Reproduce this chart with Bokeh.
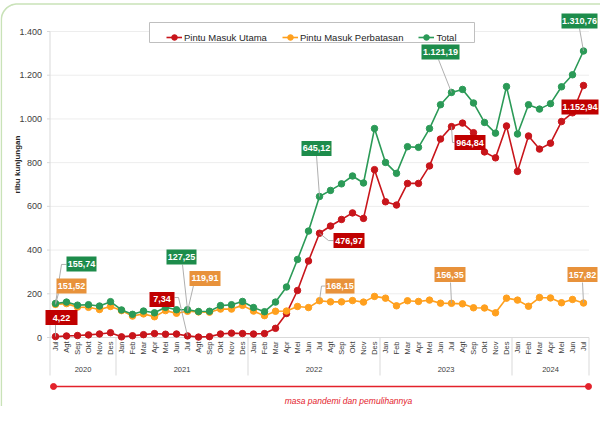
import numpy as np
from bokeh.plotting import figure
from bokeh.models import Range1d, Legend, LegendItem
from bokeh.core.properties import value
from bokeh.embed import file_html
from bokeh.resources import INLINE

# ---------------- data ----------------
months = ["Jul", "Agt", "Sep", "Okt", "Nov", "Des",
          "Jan", "Feb", "Mar", "Apr", "Mei", "Jun", "Jul", "Agt", "Sep", "Okt", "Nov", "Des",
          "Jan", "Feb", "Mar", "Apr", "Mei", "Jun", "Jul", "Agt", "Sep", "Okt", "Nov", "Des",
          "Jan", "Feb", "Mar", "Apr", "Mei", "Jun", "Jul", "Agt", "Sep", "Okt", "Nov", "Des",
          "Jan", "Feb", "Mar", "Apr", "Mei", "Jun", "Jul"]
years = ["2020", "2021", "2022", "2023", "2024"]
months_per_year = [6, 12, 12, 12, 7]

utama = [4.22, 7, 9, 12, 16, 22,
         3, 8, 13, 18, 15, 16, 7.34, 2, 4, 16, 20, 18,
         16, 18, 42, 110, 215, 350, 476.97, 510, 540, 570, 545, 768,
         621, 606, 705, 705, 785, 908, 964.84, 981, 937, 849, 822, 968,
         760, 922, 862, 889, 988, 1028, 1152.94]
perbatasan = [151.52, 155, 139, 138, 128, 142,
              123, 98, 108, 95, 123, 111, 119.91, 117, 116, 130, 130, 147,
              121, 100, 120, 121, 142, 137, 168.15, 163, 163, 169, 162, 188,
              180, 145, 168, 165, 171, 157, 156.35, 154, 136, 135, 113, 180,
              171, 143, 183, 181, 159, 174, 157.82]
total = [155.74, 162, 148, 150, 144, 164,
         126, 106, 121, 113, 138, 127, 127.25, 119, 120, 146, 150, 165,
         137, 118, 162, 231, 357, 487, 645.12, 673, 703, 739, 707, 956,
         801, 751, 873, 870, 956, 1065, 1121.19, 1135, 1073, 984, 935, 1148,
         931, 1065, 1045, 1070, 1147, 1202, 1310.76]
y_ticks = [0, 200, 400, 600, 800, 1000, 1200, 1400]
y_tick_labels = ["0", "200", "400", "600", "800", "1.000", "1.200", "1.400"]
series_names = ["Pintu Masuk Utama", "Pintu Masuk Perbatasan", "Total"]

# ---------------- style / geometry ----------------
RED, ORANGE, GREEN = "#C8151B", "#FFA01E", "#2B9A57"
RED_BOX, ORANGE_BOX, GREEN_BOX = "#C00000", "#E8923B", "#1D8C4B"
W, H = 600, 406
XS = 11.0              # px per month
X0 = 55.0              # figure px of first month
YS = 306.0 / 1400.0    # px per unit
Y0 = 337.0             # figure px of value 0
FONT_NAME = "Liberation Sans"
FONT = value(FONT_NAME)
GREY = "#D9D9D9"


def rx(xr):  # reference pixel -> data x
    return (xr - 8 - X0) / XS


def ry(yr):  # reference pixel -> data y
    return (Y0 - (yr - 8)) / YS


p = figure(width=W, height=H, output_backend="svg", toolbar_location=None,
           x_range=Range1d(-X0 / XS, (W - X0) / XS),
           y_range=Range1d(-(H - Y0) / YS, Y0 / YS),
           x_axis_location=None, y_axis_location=None, min_border=0)
p.xgrid.visible = False
p.ygrid.visible = False
p.outline_line_color = None
p.background_fill_color = "white"
p.border_fill_color = "white"

n = len(months)
idx = list(range(n))
x_left, x_right = -0.5, n - 0.5

# outer rounded green frame
r = 16.0
t = np.linspace(0, np.pi / 2, 20)
bx = [640.0] + list(8.8 + r - r * np.sin(t)) + [8.8]
by = [11.5] + list(11.5 + r - r * np.cos(t)) + [440.0]
p.line([rx(v) for v in bx], [ry(v) for v in by], line_color="#C9E2B8", line_width=1.6)

# gridlines
p.segment(x0=[x_left] * (len(y_ticks) - 1), x1=[x_right] * (len(y_ticks) - 1),
          y0=y_ticks[1:], y1=y_ticks[1:], line_color="#EDEDED", line_width=1)
p.segment(x0=[x_left], x1=[x_right], y0=[0], y1=[0], line_color=GREY, line_width=1)
# y axis line + ticks
p.segment(x0=[x_left], x1=[x_left], y0=[0], y1=[y_ticks[-1]], line_color=GREY, line_width=1)
p.segment(x0=[x_left - 3 / XS] * len(y_ticks), x1=[x_left] * len(y_ticks),
          y0=y_ticks, y1=y_ticks, line_color=GREY, line_width=1)
p.text(x=[x_left - 8 / XS] * len(y_ticks), y=y_ticks, text=y_tick_labels,
       text_font=FONT, text_font_size="9px", text_color="#404040",
       text_align="right", text_baseline="middle")
p.text(x=[rx(25)], y=[ry(172)], text=["ribu kunjungan"], angle=np.pi / 2,
       text_font=FONT, text_font_size="8px", text_font_style="bold", text_color="#262626",
       text_align="center", text_baseline="middle")

# category axis (months + years)
p.text(x=idx, y=[ry(349)] * n, text=months, angle=np.pi / 2,
       text_font=FONT, text_font_size="7.5px", text_color="#404040",
       text_align="right", text_baseline="middle")
bounds = np.concatenate([[0], np.cumsum(months_per_year)])
sep_x = [b - 0.5 for b in bounds]
p.segment(x0=sep_x, x1=sep_x, y0=[0] * len(sep_x), y1=[ry(383)] * len(sep_x),
          line_color=GREY, line_width=1)
year_x = [(bounds[k] + bounds[k + 1] - 1) / 2 for k in range(len(years))]
p.text(x=year_x, y=[ry(377)] * len(years), text=years,
       text_font=FONT, text_font_size="7.5px", text_color="#404040",
       text_align="center", text_baseline="middle")

# bottom period marker
p.line([rx(61), rx(596)], [ry(394), ry(394)], line_color="#E3222B", line_width=1.5)
p.scatter([rx(61), rx(596)], [ry(394), ry(394)], size=6, color="#E3222B")
p.text(x=[rx(356)], y=[ry(408)], text=["masa pandemi dan pemulihannya"],
       text_font=FONT, text_font_size="8.5px", text_font_style="italic",
       text_color="#E3222B", text_align="center", text_baseline="middle")

# series
renderers = []
for vals, col in [(utama, RED), (perbatasan, ORANGE), (total, GREEN)]:
    lr = p.line(idx, vals, line_color=col, line_width=1.6)
    sr = p.scatter(idx, vals, size=6.5, fill_color=col, line_color=col)
    renderers.append([lr, sr])


def fmt(v):
    s = f"{v:,.2f}"
    return s.replace(",", "#").replace(".", ",").replace("#", ".")


# data labels: (series values, index, box colour, offset of box centre (px, up+), box width, leader offsets)
labels = [
    (total, 0, GREEN_BOX, (26, 39.5), 30, [(6, 39), (11, 39)]),
    (perbatasan, 0, ORANGE_BOX, (16, 18.4), 30, [(3, 11)]),
    (utama, 0, RED_BOX, (6, 19), 32, [(0, 12)]),
    (utama, 12, RED_BOX, (-25.5, 36.4), 25, [(-9, 38.4), (-13, 38.4)]),
    (total, 12, GREEN_BOX, (-6, 52.7), 30, [(-5, 45)]),
    (perbatasan, 12, ORANGE_BOX, (17.5, 32.8), 31, [(6, 25.8)]),
    (total, 24, GREEN_BOX, (-3, 48), 30, [(-3, 41)]),
    (utama, 24, RED_BOX, (29.5, -7.3), 31, [(9, -7.3), (14, -7.3)]),
    (perbatasan, 24, ORANGE_BOX, (20.5, 14.7), 29, [(2, 14.7), (6, 14.7)]),
    (total, 36, GREEN_BOX, (-11, 40.4), 38, [(-13, 32.9)]),
    (utama, 36, RED_BOX, (18.5, -15.9), 31, [(1, -15.9), (3, -15.9)]),
    (perbatasan, 36, ORANGE_BOX, (-1.5, 28.8), 31, [(-1, 20.8)]),
    (total, 48, GREEN_BOX, (-4, 30), 36, [(-4, 22.5)]),
    (utama, 48, RED_BOX, (-3.5, -21.5), 37, []),
    (perbatasan, 48, ORANGE_BOX, (-1, 28.5), 30, [(-1, 20.5)]),
]
BOX_H = 15
lead_xs, lead_ys = [], []
bl, br, bt, bb, bc, tx, ty, tt = [], [], [], [], [], [], [], []
for vals, i, col, (ox, oy), bw, lead in labels:
    v = vals[i]
    if lead:
        lead_xs.append([i] + [i + a / XS for a, b in lead])
        lead_ys.append([v] + [v + b / YS for a, b in lead])
    cx, cy = i + ox / XS, v + oy / YS
    bl.append(cx - bw / 2 / XS)
    br.append(cx + bw / 2 / XS)
    bt.append(cy + BOX_H / 2 / YS)
    bb.append(cy - BOX_H / 2 / YS)
    bc.append(col)
    tx.append(cx)
    ty.append(cy)
    tt.append(fmt(v))
p.multi_line(lead_xs, lead_ys, line_color="#A6A6A6", line_width=0.9)
p.quad(left=bl, right=br, top=bt, bottom=bb, fill_color=bc, line_color=None)
p.text(x=tx, y=ty, text=tt, text_font=FONT, text_font_size="9px",
       text_font_style="bold", text_color="white",
       text_align="center", text_baseline="middle")

# legend
p.quad(left=[rx(157)], right=[rx(482)], top=[ry(30)], bottom=[ry(50)],
       fill_color="white", line_color="#BFBFBF", line_width=1)
legend = Legend(items=[LegendItem(label=nm, renderers=rr) for nm, rr in zip(series_names, renderers)],
                orientation="horizontal", location=(166, 362),
                border_line_color=None, background_fill_alpha=0,
                padding=4, margin=0, spacing=15, label_standoff=2,
                glyph_width=16, glyph_height=14, label_height=14,
                label_text_font=FONT_NAME, label_text_font_size="9.5px",
                label_text_color="#262626")
p.add_layout(legend)

open("out.html", "w").write(file_html(p, INLINE))
